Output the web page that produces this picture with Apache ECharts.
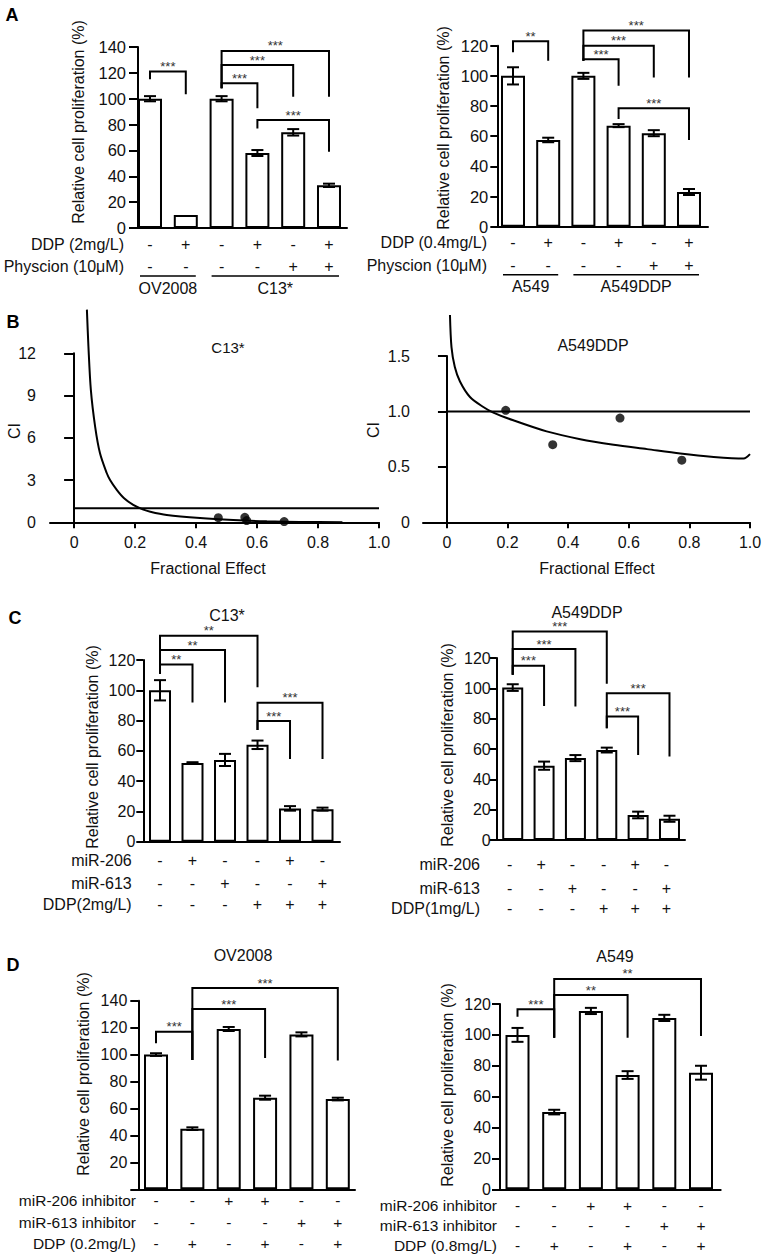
<!DOCTYPE html>
<html><head><meta charset="utf-8">
<script src="https://cdn.jsdelivr.net/npm/echarts@6.0.0/dist/echarts.min.js"></script>
<style>html,body{margin:0;padding:0;background:#fff}#c{width:763px;height:1258px}</style>
</head><body><div id="c"></div>
<script>
// ================= DATA =================
// Panel A left : OV2008 / C13*
const aLeftValues = [100, 10, 100, 58, 74, 33];
const aLeftErrors = [2, 0, 2, 2.3, 2.5, 1.3];
const aLeftBrackets = [[0,1,121,115,103.4],[2,3,112,108,92.6],[2,4,126,108,101.5],[2,5,137,108,101.5],[3,5,83.5,77,59]];
const aLeftStars = ['***','***','***','***','***'];
const aLeftRowLabels = ['DDP (2mg/L)', 'Physcion (10μM)'];
const aLeftRows = [['-','+','-','+','-','+'],['-','-','-','-','+','+']];
const aLeftGroups = [['OV2008',0,1],['C13*',2,5]];

// Panel A right : A549 / A549DDP
const aRightValues = [100, 57.5, 100, 67, 62, 23];
const aRightErrors = [5.7, 1.5, 2, 1, 2, 2];
const aRightBrackets = [[0,1,123,115.6,110],[2,3,111,110,93.5],[2,4,120,110,99],[2,5,130,110,99],[3,5,78.5,71.4,57.5]];
const aRightStars = ['**','***','***','***','***'];
const aRightRowLabels = ['DDP (0.4mg/L)', 'Physcion (10μM)'];
const aRightRows = [['-','+','-','+','-','+'],['-','-','-','-','+','+']];
const aRightGroups = [['A549',0,1],['A549DDP',2,5]];

// Panel B : combination index vs fractional effect
const fracTicks = [0, 0.2, 0.4, 0.6, 0.8, 1.0];
const ciRefLine = [[0, 1], [1, 1]];
const bLeftCurve = [[0.042,15.1],[0.047,12.5],[0.055,9.4],[0.069,6.8],[0.085,4.9],[0.107,3.5],[0.118,3.0],[0.14,2.3],[0.164,1.7],[0.194,1.23],[0.225,0.92],[0.25,0.75],[0.304,0.52],[0.413,0.3],[0.522,0.16],[0.632,0.07],[0.74,0.03],[0.88,0.0]];
const bLeftDots = [[0.473,0.33],[0.56,0.35],[0.566,0.12],[0.689,0.05]];
const bRightCurve = [[0.01,1.87],[0.015,1.58],[0.026,1.40],[0.043,1.27],[0.076,1.13],[0.12,1.04],[0.153,0.99],[0.219,0.92],[0.329,0.82],[0.44,0.75],[0.55,0.70],[0.66,0.66],[0.77,0.62],[0.88,0.59],[0.979,0.575],[1.0,0.615]];
const bRightDots = [[0.194,1.01],[0.349,0.70],[0.571,0.94],[0.775,0.56]];

// Panel C left : C13*
const cLeftValues = [100, 52, 54, 64, 22, 21.5];
const cLeftErrors = [6.7, 0.5, 4, 2.8, 1.5, 1];
const cLeftBrackets = [[0,1,117,111,92],[0,2,126.6,111,92],[0,3,136,111,102],[3,4,79.7,73.8,54.6],[3,5,91.8,73.8,54.6]];
const cLeftStars = ['**','**','**','***','***'];
const cLeftRowLabels = ['miR-206', 'miR-613', 'DDP(2mg/L)'];
const cRows = [['-','+','-','-','+','-'],['-','-','+','-','-','+'],['-','-','-','+','+','+']];

// Panel C right : A549DDP
const cRightValues = [100.5, 49, 54, 59.3, 16.5, 14];
const cRightErrors = [2.2, 2.7, 2, 1.6, 2.2, 2];
const cRightBrackets = [[0,1,114.9,109,88.4],[0,2,125.9,109,88],[0,3,137.5,109,103],[3,4,81.4,73.7,56],[3,5,96.8,73.7,55]];
const cRightStars = ['***','***','***','***','***'];
const cRightRowLabels = ['miR-206', 'miR-613', 'DDP(1mg/L)'];

// Panel D left : OV2008
const dLeftValues = [100, 45, 119, 68, 115, 67];
const dLeftErrors = [1, 1, 1.5, 1.5, 1.5, 1];
const dLeftBrackets = [[0,1,117,108.5,96],[1,3,133.8,96,97.4],[1,5,149.4,96,95.6]];
const dLeftStars = ['***','***','***'];
const dLeftRowLabels = ['miR-206 inhibitor', 'miR-613 inhibitor', 'DDP (0.2mg/L)'];
const dRows = [['-','-','+','+','-','-'],['-','-','-','-','+','+'],['-','+','-','+','-','+']];

// Panel D right : A549
const dRightValues = [100, 50, 115.5, 74, 111, 75.5];
const dRightErrors = [4.5, 1.5, 2, 2.5, 2, 4.5];
const dRightBrackets = [[0,1,116.6,111.8,98.2],[1,3,125.8,98.2,98.2],[1,5,136.2,98.2,99.3]];
const dRightStars = ['***','**','**'];
const dRightRowLabels = ['miR-206 inhibitor', 'miR-613 inhibitor', 'DDP (0.8mg/L)'];

// ================= LAYOUT =================
const FF = '"Liberation Sans", Arial, Helvetica, sans-serif';
const INK = '#111';
const LINE = {color: '#000', width: 2};

const L = {
  aLeft:  {left:138, top:47, width:209, height:181, xMin:-0.335, xMax:5.503, yMax:140, barW:24, tickLen:9, margin:12, fs:16.5, rowDy:[16,38], rowLabelX:124, rowFs:16, group:{lineDy:48, textDy:60}},
  aRight: {left:497.3, top:45.7, width:210.7, height:181, xMin:-0.446, xMax:5.54, yMax:120, barW:24, tickLen:7, margin:9, fs:16.5, rowDy:[16,39], rowLabelX:487, rowFs:16, group:{lineDy:48, textDy:60}},
  cLeft:  {left:143.3, top:660, width:196.7, height:181.7, xMin:-0.514, xMax:5.538, yMax:120, barW:22, tickLen:7, margin:8, fs:16, rowDy:[19,42,63], rowLabelX:131.7, rowFs:16},
  cRight: {left:496.7, top:658, width:188.3, height:182, xMin:-0.511, xMax:5.495, yMax:120, barW:21, tickLen:7, margin:6, fs:16, rowDy:[24,48,68], rowLabelX:480, rowFs:16, colDx:-3},
  dLeft:  {left:138.3, top:1000.7, width:216.7, height:188.6, xMin:-0.487, xMax:5.473, yMax:140, barW:24, tickLen:8, margin:11, fs:16, rowDy:[11,33,54], rowLabelX:136, rowFs:15.5, hideZero:true},
  dRight: {left:500, top:1004, width:220.7, height:185.3, xMin:-0.477, xMax:5.537, yMax:120, barW:24, tickLen:8, margin:9, fs:16, rowDy:[16,36,56], rowLabelX:497, rowFs:15.5},
  bLeft:  {left:50, top:353.3, width:329, height:169, xMin:-0.079, yMax:12, yInterval:3, tickLen:10, margin:14},
  bRight: {left:423, top:356, width:327, height:166.3, xMin:-0.079, yMax:1.5, yInterval:0.5, tickLen:9, margin:13}
};

function txtStyle(text, size, align, valign, extra) {
  return Object.assign({text: text, font: size + 'px ' + FF, fill: INK,
    align: align, verticalAlign: valign, textAlign: align, textVerticalAlign: valign}, extra || {});
}

const option = {
  animation: false, backgroundColor: '#fff',
  textStyle: {fontFamily: FF},
  grid: [], xAxis: [], yAxis: [], series: [], graphic: []
};

function addBarPanel(gi, lay, values, errors, brackets, stars, rowLabels, rows, groups) {
  option.grid.push({left: lay.left, top: lay.top, width: lay.width, height: lay.height, containLabel: false, outerBoundsMode: 'none'});
  option.xAxis.push({type: 'value', gridIndex: gi, min: lay.xMin, max: lay.xMax,
    axisLine: {show: true, onZero: false, lineStyle: LINE}, axisTick: {show: false}, axisLabel: {show: false}, splitLine: {show: false}});
  option.yAxis.push({type: 'value', gridIndex: gi, min: 0, max: lay.yMax, interval: 20,
    axisLine: {show: true, onZero: false, lineStyle: LINE},
    axisTick: {show: true, length: lay.tickLen, lineStyle: LINE},
    axisLabel: {fontSize: lay.fs, color: INK, margin: lay.margin, fontFamily: FF,
      formatter: v => (lay.hideZero && v === 0) ? '' : String(v)},
    splitLine: {show: false}});
  // bars
  option.series.push({type: 'bar', xAxisIndex: gi, yAxisIndex: gi, silent: true, z: 2,
    barWidth: lay.barW, data: values.map((v, i) => [i, v]),
    itemStyle: {color: '#fff', borderColor: '#000', borderWidth: 2}});
  // error bars
  option.series.push({type: 'custom', xAxisIndex: gi, yAxisIndex: gi, silent: true, z: 5,
    data: values.map((v, i) => [i, v, errors[i]]).filter(d => d[2] > 0), encode: {x: 0, y: 1},
    renderItem: function (params, api) {
      const x = api.value(0), m = api.value(1), e = api.value(2);
      const t = api.coord([x, m + e]), b = api.coord([x, m - e]);
      const cap = 6, st = {stroke: '#000', lineWidth: 2};
      return {type: 'group', children: [
        {type: 'line', shape: {x1: t[0], y1: t[1], x2: b[0], y2: b[1]}, style: st},
        {type: 'line', shape: {x1: t[0] - cap, y1: t[1], x2: t[0] + cap, y2: t[1]}, style: st},
        {type: 'line', shape: {x1: b[0] - cap, y1: b[1], x2: b[0] + cap, y2: b[1]}, style: st}
      ]};
    }});
  // significance brackets
  option.series.push({type: 'custom', xAxisIndex: gi, yAxisIndex: gi, silent: true, z: 6,
    data: brackets, encode: {x: [0, 1], y: [2, 3, 4]},
    renderItem: function (params, api) {
      const k = params.dataIndex;
      const xl = api.value(0), xr = api.value(1), yt = api.value(2), yl = api.value(3), yr = api.value(4);
      const a = api.coord([xl, yl]), b = api.coord([xl, yt]), c = api.coord([xr, yt]), d = api.coord([xr, yr]);
      return {type: 'group', children: [
        {type: 'polyline', shape: {points: [a, b, c, d]}, style: {stroke: '#000', fill: null, lineWidth: 2}},
        {type: 'text', x: (b[0] + c[0]) / 2, y: b[1] - 5, style: txtStyle(stars[k], 13, 'center', 'middle', {fill: '#333'})}
      ]};
    }});
  // treatment table
  option.series.push({type: 'custom', xAxisIndex: gi, yAxisIndex: gi, silent: true, z: 3,
    data: rows.map(() => [0, 0]), encode: {x: 0, y: 1},
    renderItem: function (params, api) {
      const ri = params.dataIndex;
      const base = api.coord([0, 0]);
      const y = base[1] + lay.rowDy[ri];
      const children = rows[ri].map((s, j) => {
        const p = api.coord([j, 0]);
        return {type: 'text', x: p[0] + (lay.colDx || 0), y: y, style: txtStyle(s, lay.rowFs, 'center', 'middle')};
      });
      children.push({type: 'text', x: lay.rowLabelX, y: y, style: txtStyle(rowLabels[ri], lay.rowFs, 'right', 'middle')});
      return {type: 'group', children: children};
    }});
  // cell-line groups (panel A)
  if (groups) {
    option.series.push({type: 'custom', xAxisIndex: gi, yAxisIndex: gi, silent: true, z: 3,
      data: groups.map(g => [g[1], 0, g[2]]), encode: {x: [0, 2], y: 1},
      renderItem: function (params, api) {
        const g = groups[params.dataIndex];
        const p1 = api.coord([g[1], 0]), p2 = api.coord([g[2], 0]);
        const x1 = p1[0] - 10, x2 = p2[0] + 10, yl = p1[1] + lay.group.lineDy;
        return {type: 'group', children: [
          {type: 'line', shape: {x1: x1, y1: yl, x2: x2, y2: yl}, style: {stroke: '#000', lineWidth: 1.5}},
          {type: 'text', x: (x1 + x2) / 2, y: p1[1] + lay.group.textDy, style: txtStyle(g[0], 16, 'center', 'middle')}
        ]};
      }});
  }
}

function addCIPanel(gi, lay, curve, dots) {
  option.grid.push({left: lay.left, top: lay.top, width: lay.width, height: lay.height, containLabel: false, outerBoundsMode: 'none'});
  option.xAxis.push({type: 'value', gridIndex: gi, min: lay.xMin, max: 1,
    axisLine: {show: true, onZero: false, lineStyle: LINE},
    axisTick: {show: true, length: 6, lineStyle: LINE, customValues: fracTicks},
    axisLabel: {fontSize: 16, color: INK, margin: 12, customValues: fracTicks,
      formatter: v => v === 0 ? '0' : v.toFixed(1)},
    splitLine: {show: false}});
  option.yAxis.push({type: 'value', gridIndex: gi, min: 0, max: lay.yMax, interval: lay.yInterval,
    axisLine: {show: true, onZero: true, lineStyle: LINE},
    axisTick: {show: true, length: lay.tickLen, lineStyle: LINE},
    axisLabel: {fontSize: 16, color: INK, margin: lay.margin,
      formatter: v => (v === 0 || Number.isInteger(lay.yInterval)) ? String(v) : v.toFixed(1)},
    splitLine: {show: false}});
  option.series.push({type: 'line', xAxisIndex: gi, yAxisIndex: gi, silent: true, z: 2,
    data: ciRefLine, showSymbol: false, clip: false, lineStyle: {color: '#000', width: 2}});
  option.series.push({type: 'line', xAxisIndex: gi, yAxisIndex: gi, silent: true, z: 3,
    data: curve, smooth: 0.3, showSymbol: false, clip: false,
    lineStyle: {color: '#000', width: 2}});
  option.series.push({type: 'scatter', xAxisIndex: gi, yAxisIndex: gi, silent: true, z: 4,
    data: dots, symbolSize: 9, clip: false, itemStyle: {color: '#000'}});
}

addBarPanel(0, L.aLeft, aLeftValues, aLeftErrors, aLeftBrackets, aLeftStars, aLeftRowLabels, aLeftRows, aLeftGroups);
addBarPanel(1, L.aRight, aRightValues, aRightErrors, aRightBrackets, aRightStars, aRightRowLabels, aRightRows, aRightGroups);
addCIPanel(2, L.bLeft, bLeftCurve, bLeftDots);
addCIPanel(3, L.bRight, bRightCurve, bRightDots);
addBarPanel(4, L.cLeft, cLeftValues, cLeftErrors, cLeftBrackets, cLeftStars, cLeftRowLabels, cRows, null);
addBarPanel(5, L.cRight, cRightValues, cRightErrors, cRightBrackets, cRightStars, cRightRowLabels, cRows, null);
addBarPanel(6, L.dLeft, dLeftValues, dLeftErrors, dLeftBrackets, dLeftStars, dLeftRowLabels, dRows, null);
addBarPanel(7, L.dRight, dRightValues, dRightErrors, dRightBrackets, dRightStars, dRightRowLabels, dRows, null);

// ================= FREE TEXT =================
const yTitle = 'Relative cell proliferation (%)';
const labels = [
  ['A', 12, 15, 18, 0, true], ['B', 13, 322, 18, 0, true], ['C', 15, 618, 18, 0, true], ['D', 13, 965, 18, 0, true],
  [yTitle, 78, 122, 16, 90], [yTitle, 443, 128, 16, 90], [yTitle, 92, 747, 16, 90],
  [yTitle, 447, 745, 16, 90], [yTitle, 83, 1074, 16, 90], [yTitle, 447, 1085, 16, 90],
  ['C13*', 228, 347, 15, 0], ['A549DDP', 593, 345, 16, 0],
  ['CI', 14, 431, 16, 90], ['CI', 373, 430, 16, 90],
  ['Fractional Effect', 208, 568, 16, 0], ['Fractional Effect', 597, 568, 16, 0],
  ['C13*', 227, 615, 16, 0], ['A549DDP', 587, 612, 16, 0],
  ['OV2008', 243, 955, 16, 0], ['A549', 615, 956, 16, 0]
];
labels.forEach(l => {
  option.graphic.push({type: 'text', x: l[1], y: l[2], rotation: l[4] ? l[4] * Math.PI / 180 : 0, silent: true,
    style: txtStyle(l[0], l[3], 'center', 'middle', l[5] ? {font: 'bold ' + l[3] + 'px ' + FF, fill: '#000'} : {})});
});

const chart = echarts.init(document.getElementById('c'), null, {renderer: 'svg', width: 763, height: 1258});
chart.setOption(option);
</script></body></html>
